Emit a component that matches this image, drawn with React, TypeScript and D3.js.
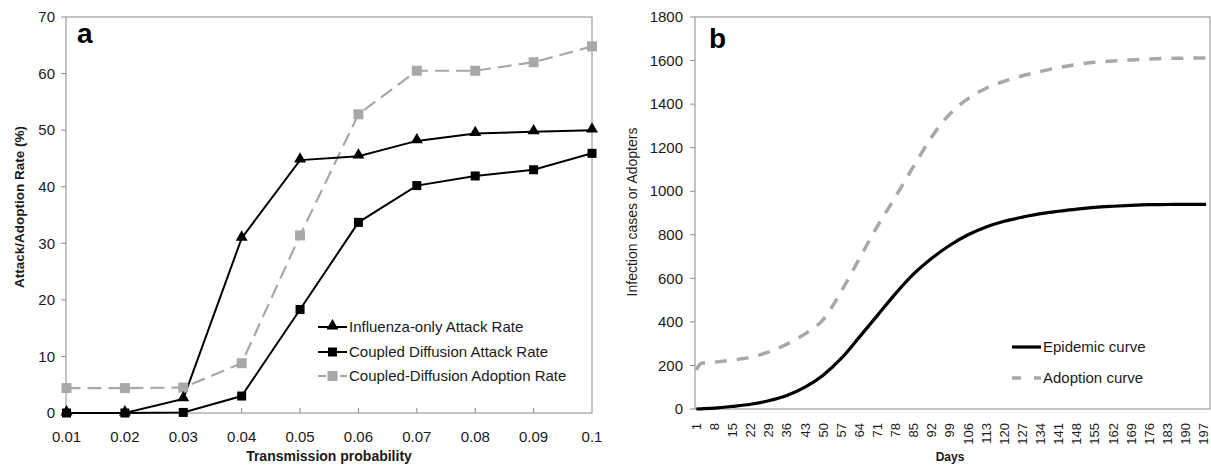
import React from 'react';
import * as d3 from 'd3';

// panel a: attack / adoption rate by transmission probability
const probs = [0.01, 0.02, 0.03, 0.04, 0.05, 0.06, 0.07, 0.08, 0.09, 0.1];
const fluOnly = [0, 0, 2.5, 30.9, 44.7, 45.4, 48.1, 49.4, 49.7, 50.0];
const coupledAttack = [0, 0, 0.1, 3.0, 18.3, 33.7, 40.2, 41.9, 43.0, 45.9];
const coupledAdoption = [4.4, 4.4, 4.5, 8.8, 31.4, 52.8, 60.5, 60.5, 62.0, 64.8];
const yTicksA = [0, 10, 20, 30, 40, 50, 60, 70];
const legendA = ['Influenza-only Attack Rate', 'Coupled Diffusion Attack Rate', 'Coupled-Diffusion Adoption Rate'];

// panel b: cumulative curves by day
const days = [1, 3, 8, 15, 22, 29, 36, 43, 50, 57, 64, 71, 78, 85, 92, 99, 106, 113, 120, 127, 134, 141, 148, 155, 162, 169, 176, 183, 190, 197, 198];
const epidemic = [0, 1, 4, 12, 22, 38, 62, 100, 155, 232, 330, 430, 530, 620, 692, 752, 800, 836, 862, 881, 897, 908, 918, 926, 931, 935, 938, 939, 940, 940, 940];
const adoption = [180, 210, 215, 225, 238, 262, 298, 345, 410, 540, 690, 840, 975, 1115, 1250, 1355, 1425, 1473, 1505, 1530, 1550, 1568, 1582, 1592, 1598, 1603, 1607, 1610, 1611, 1612, 1612];
const dayTicks = d3.range(1, 198, 7);
const yTicksB = d3.range(0, 1801, 200);
const legendB = ['Epidemic curve', 'Adoption curve'];

const FONT = '"Liberation Sans", Arial, sans-serif';
const GRAY = '#a8a8a8';
const FRAME = '#8a8a8a';
const INK = '#1a1a1a';

const PanelA = () => {
  const m = { left: 66, top: 17, right: 592, bottom: 413 };
  const x = d3.scaleLinear().domain([0.01, 0.1]).range([m.left + 0.5, m.right]);
  const y = d3.scaleLinear().domain([0, 70]).range([m.bottom, m.top]);
  const line = (vals: number[]) =>
    d3.line<number>().x((_, i) => x(probs[i])).y(v => y(v))(vals) || '';
  const tri = d3.symbol().type(d3.symbolTriangle).size(62)() || '';
  const sq = (s: number) => <rect x={-s / 2} y={-s / 2} width={s} height={s} />;
  const legendY = [327, 352, 376];
  return (
    <g fontFamily={FONT}>
      <rect x={m.left} y={m.top} width={m.right - m.left} height={m.bottom - m.top} fill="none" stroke={FRAME} />
      {yTicksA.map(t => (
        <g key={t} transform={`translate(0,${y(t)})`}>
          <line x1={m.left - 5} x2={m.left} stroke={FRAME} />
          <text x={m.left - 11} dy="0.35em" textAnchor="end" fontSize={15} fill={INK}>{t}</text>
        </g>
      ))}
      {probs.map(p => (
        <g key={p} transform={`translate(${x(p)},0)`}>
          {p > 0.01 && p < 0.1 && <line y1={m.bottom} y2={m.bottom - 5} stroke={FRAME} />}
          <text y={442} textAnchor="middle" fontSize={15} fill={INK}>{p === 0.1 ? '0.1' : p.toFixed(2)}</text>
        </g>
      ))}
      <text x={329} y={461} textAnchor="middle" fontSize={14} fontWeight="bold" fill={INK}>Transmission probability</text>
      <text transform={`translate(24,207) rotate(-90)`} textAnchor="middle" fontSize={13.5} fontWeight="bold" fill={INK}>Attack/Adoption Rate (%)</text>
      <text x={77} y={43} fontSize={28} fontWeight="bold" fill="#000">a</text>

      <path d={line(coupledAdoption)} fill="none" stroke={GRAY} strokeWidth={2.2} strokeDasharray="14,7" />
      <path d={line(coupledAttack)} fill="none" stroke="#000" strokeWidth={2} />
      <path d={line(fluOnly)} fill="none" stroke="#000" strokeWidth={2} />
      {coupledAdoption.map((v, i) => (
        <g key={'g' + i} transform={`translate(${x(probs[i])},${y(v)})`} fill={GRAY}>{sq(10)}</g>
      ))}
      {coupledAttack.map((v, i) => (
        <g key={'s' + i} transform={`translate(${x(probs[i])},${y(v)})`} fill="#000">{sq(9)}</g>
      ))}
      {fluOnly.map((v, i) => (
        <path key={'t' + i} d={tri} transform={`translate(${x(probs[i])},${y(v) - 1})`} fill="#000" />
      ))}

      {legendA.map((label, i) => (
        <g key={label} transform={`translate(318,${legendY[i]})`}>
          {i < 2 ? (
            <line x1={0} x2={29} stroke="#000" strokeWidth={2} />
          ) : (
            <>
              <line x1={0} x2={8} stroke={GRAY} strokeWidth={2.2} />
              <line x1={22} x2={29} stroke={GRAY} strokeWidth={2.2} />
            </>
          )}
          <g transform="translate(14.5,0)" fill={i === 2 ? GRAY : '#000'}>
            {i === 0 ? <path d={tri} transform="translate(0,-1)" /> : sq(i === 1 ? 9 : 10)}
          </g>
          <text x={31} dy="0.36em" fontSize={15} fill={INK}>{label}</text>
        </g>
      ))}
    </g>
  );
};

const PanelB = () => {
  const m = { left: 695, top: 17, right: 1210, bottom: 409 };
  const x = d3.scaleLinear().domain([0.5, 199.5]).range([m.left, m.right]);
  const y = d3.scaleLinear().domain([0, 1800]).range([m.bottom, m.top]);
  const line = (vals: number[]) =>
    d3.line<number>().x((_, i) => x(days[i])).y(v => y(v)).curve(d3.curveMonotoneX)(vals) || '';
  return (
    <g fontFamily={FONT}>
      <rect x={m.left} y={m.top} width={m.right - m.left} height={m.bottom - m.top} fill="none" stroke={FRAME} />
      {yTicksB.map(t => (
        <g key={t} transform={`translate(0,${y(t)})`}>
          <line x1={m.left - 5} x2={m.left} stroke={FRAME} />
          <text x={m.left - 12} dy="0.35em" textAnchor="end" fontSize={15} fill={INK}>{t}</text>
        </g>
      ))}
      {dayTicks.map(d => (
        <text key={d} transform={`translate(${x(d)},${m.bottom + 14}) rotate(-90)`} dy="0.35em" textAnchor="end" fontSize={13} fill={INK}>{d}</text>
      ))}
      <text x={950} y={461} textAnchor="middle" fontSize={12} fontWeight="bold" fill={INK}>Days</text>
      <text transform={`translate(637,212) rotate(-90)`} textAnchor="middle" fontSize={14} fill={INK}>Infection cases or Adopters</text>
      <text x={709} y={48} fontSize={28} fontWeight="bold" fill="#000">b</text>

      <path d={line(adoption)} fill="none" stroke={GRAY} strokeWidth={3.5} strokeDasharray="12,10" />
      <path d={line(epidemic)} fill="none" stroke="#000" strokeWidth={3.2} />

      {legendB.map((label, i) => (
        <g key={label} transform={`translate(1012,${347 + i * 31})`}>
          {i === 0 ? (
            <line x1={0} x2={29} stroke="#000" strokeWidth={3.2} />
          ) : (
            <>
              <line x1={0} x2={9} stroke={GRAY} strokeWidth={3.5} />
              <line x1={22} x2={29} stroke={GRAY} strokeWidth={3.5} />
            </>
          )}
          <text x={31} dy="0.36em" fontSize={15} fill={INK}>{label}</text>
        </g>
      ))}
    </g>
  );
};

export default function App() {
  return (
    <div style={{ position: 'fixed', left: 0, top: 0 }}>
      <svg width={1211} height={465} style={{ display: 'block', background: '#fff' }}>
        <PanelA />
        <PanelB />
      </svg>
    </div>
  );
}
